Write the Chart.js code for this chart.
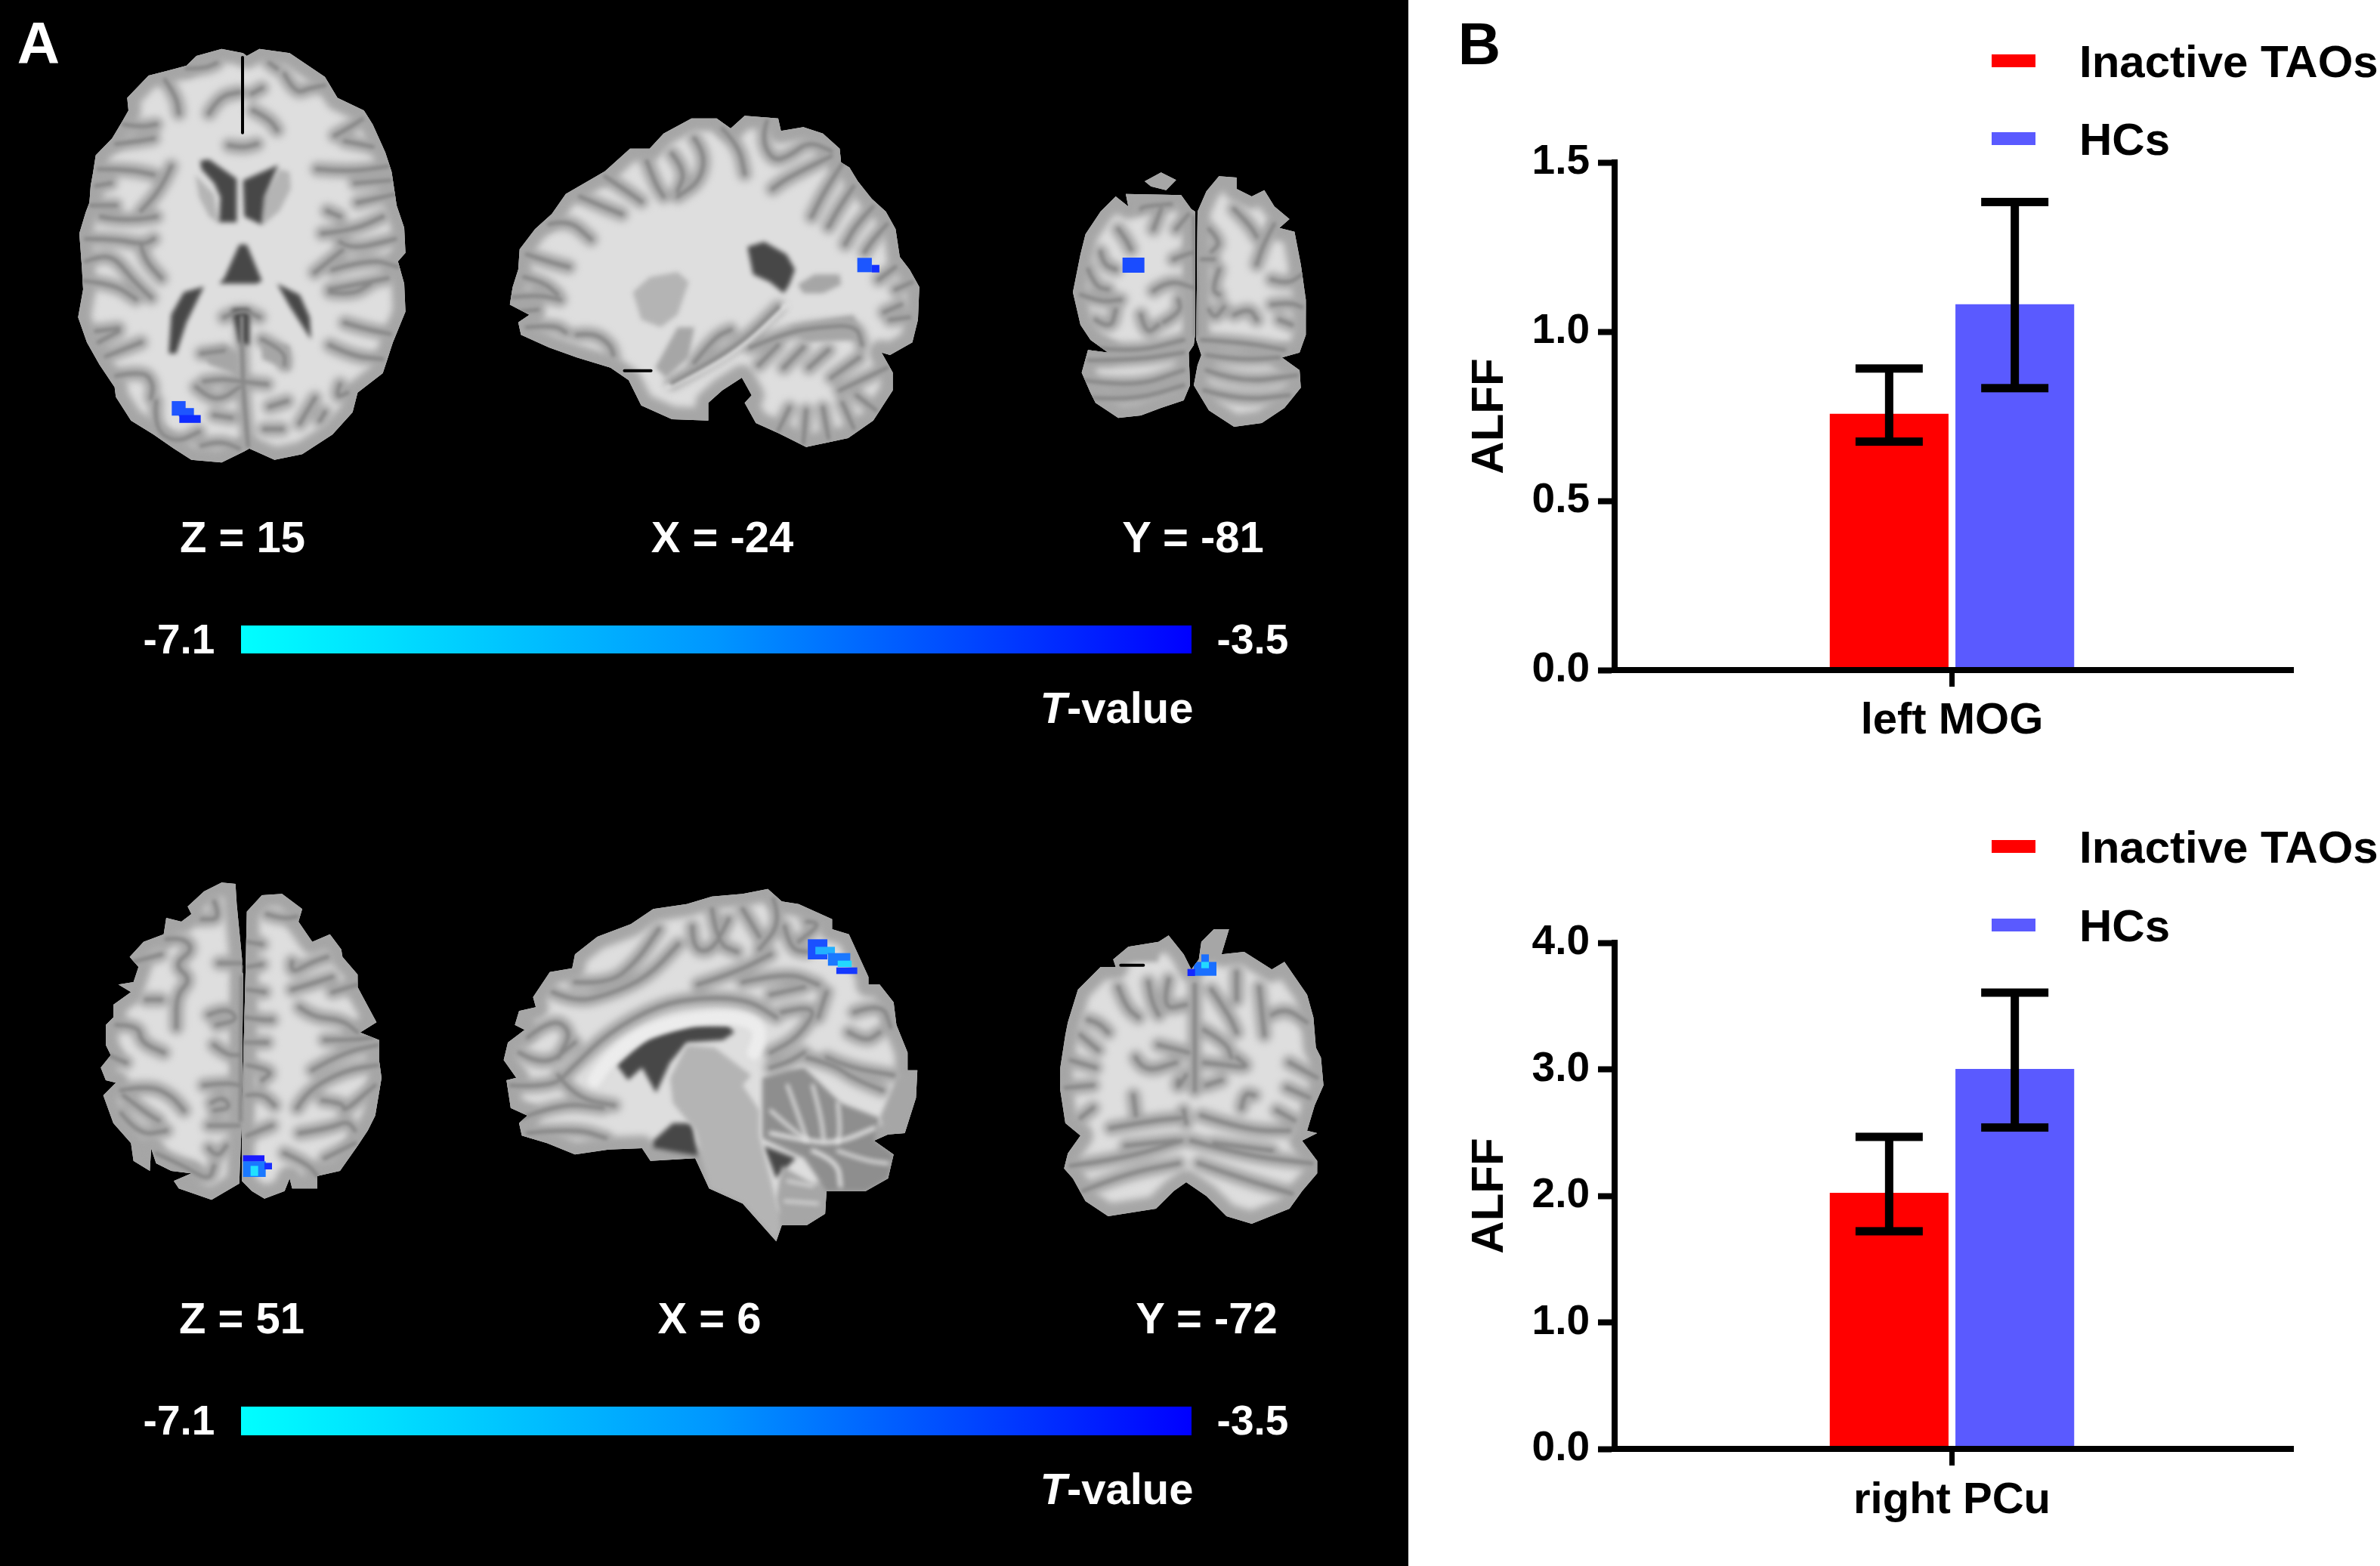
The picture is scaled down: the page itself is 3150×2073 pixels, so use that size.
<!DOCTYPE html>
<html>
<head>
<meta charset="utf-8">
<title>ALFF</title>
<script src="https://cdn.jsdelivr.net/npm/chart.js@4/dist/chart.umd.js"></script>
<style>
html, body { margin: 0; padding: 0; background: #fff; }
body { position: relative; width: 3150px; height: 2073px; overflow: hidden; font-family: "Liberation Sans", Arial, sans-serif; font-weight: bold; }
#panelA { position: absolute; left: 0; top: 0; width: 1864px; height: 2073px; background: #000; }
canvas { position: absolute; }
.txt { position: absolute; color: #fff; font-size: 58px; line-height: 1; white-space: nowrap; transform: translate(-50%, -50%); }
.bar { position: absolute; left: 319px; width: 1258px; background: linear-gradient(to right, #00ffff, #0096ff 50%, #0000ff); }
.end { font-size: 55px; }
</style>
</head>
<body>
<div id="panelA"></div>
<canvas id="brains" width="1864" height="2073" style="left:0;top:0"></canvas>

<div class="txt" style="left:51px;top:57px;font-size:78px">A</div>
<div class="txt" style="left:321px;top:711px">Z = 15</div>
<div class="txt" style="left:956px;top:711px">X = -24</div>
<div class="txt" style="left:1579px;top:711px">Y = -81</div>
<div class="bar" style="top:828px;height:37px"></div>
<div class="txt end" style="left:237px;top:846px">-7.1</div>
<div class="txt end" style="left:1658px;top:846px">-3.5</div>
<div class="txt" style="left:1478px;top:937px"><i>T</i>-value</div>

<div class="txt" style="left:320px;top:1745px">Z = 51</div>
<div class="txt" style="left:939px;top:1745px">X = 6</div>
<div class="txt" style="left:1597px;top:1745px">Y = -72</div>
<div class="bar" style="top:1862px;height:38px"></div>
<div class="txt end" style="left:237px;top:1880px">-7.1</div>
<div class="txt end" style="left:1658px;top:1880px">-3.5</div>
<div class="txt" style="left:1478px;top:1971px"><i>T</i>-value</div>

<div class="txt" style="left:1958px;top:58px;font-size:78px;color:#000">B</div>

<canvas id="chartMog" style="left:1880px;top:0"></canvas>
<canvas id="chartPcu" style="left:1880px;top:1040px"></canvas>

<script>
// bar chart values
const groups = ['Inactive TAOs', 'HCs'];
const groupColors = ['#ff0000', '#5a5aff'];

const mogLabels = ['left MOG'];
const mogMeans = [0.757, 1.081];
const mogErrLow = [0.675, 0.833];
const mogErrHigh = [0.891, 1.383];
const mogTicks = [0, 0.5, 1, 1.5];

const pcuLabels = ['right PCu'];
const pcuMeans = [2.024, 3.003];
const pcuErrLow = [1.72, 2.54];
const pcuErrHigh = [2.466, 3.606];
const pcuTicks = [0, 1, 2, 3, 4];

// error bars + legend, Chart.js has neither in this form
const extras = {
    id: 'extras',
    afterDatasetsDraw(chart, args, opts) {
        const ctx = chart.ctx;
        const y = chart.scales.y;
        ctx.save();
        ctx.fillStyle = '#000';
        chart.data.datasets.forEach((ds, i) => {
            const bar = chart.getDatasetMeta(i).data[0];
            const hi = y.getPixelForValue(opts.high[i]);
            const lo = y.getPixelForValue(opts.low[i]);
            ctx.fillRect(bar.x - 5.5, hi, 11, lo - hi);
            ctx.fillRect(bar.x - 44.5, hi - 5.5, 89, 11);
            ctx.fillRect(bar.x - 44.5, lo - 5.5, 89, 11);
        });
        // axis line runs a bit past the last category slot
        ctx.fillRect(chart.chartArea.right, chart.chartArea.bottom - 4, 6, 8);

        ctx.font = 'bold 60px "Liberation Sans"';
        ctx.textBaseline = 'middle';
        chart.data.datasets.forEach((ds, i) => {
            const ly = opts.legendY[i];
            ctx.fillStyle = ds.backgroundColor;
            ctx.fillRect(756, ly - 9, 58, 17);
            ctx.fillStyle = '#000';
            ctx.fillText(ds.label, 872, ly + 4);
        });
        ctx.restore();
    }
};

function barChart(id, size, area, labels, means, low, high, ticks, legendY, labelPad) {
    const font = s => ({ family: '"Liberation Sans"', weight: 'bold', size: s });
    const canvas = document.getElementById(id);
    canvas.width = size[0];
    canvas.height = size[1];
    return new Chart(canvas, {
        type: 'bar',
        data: {
            labels: labels,
            datasets: groups.map((g, i) => ({
                label: g,
                data: [means[i]],
                backgroundColor: groupColors[i],
                categoryPercentage: 0.3725,
                barPercentage: 0.945
            }))
        },
        plugins: [extras],
        options: {
            responsive: false,
            animation: false,
            devicePixelRatio: 1,
            layout: { padding: { left: 0, top: area.top, right: size[0] - area.right, bottom: 0 } },
            plugins: {
                legend: { display: false },
                tooltip: { enabled: false },
                extras: { low: low, high: high, legendY: legendY }
            },
            scales: {
                x: {
                    afterFit: s => { s.height = size[1] - area.bottom; },
                    grid: { offset: false, drawOnChartArea: false, tickLength: 22, tickWidth: 7, tickColor: '#000', z: 1 },
                    border: { color: '#000', width: 8, z: 1 },
                    ticks: { color: '#000', font: font(58), padding: labelPad, maxRotation: 0 }
                },
                y: {
                    min: ticks[0],
                    max: ticks[ticks.length - 1],
                    afterFit: s => { s.width = area.left; },
                    grid: { drawOnChartArea: false, tickLength: 22, tickWidth: 8, tickColor: '#000', z: 1 },
                    border: { color: '#000', width: 8, z: 1 },
                    ticks: {
                        color: '#000',
                        font: font(55),
                        padding: 11,
                        stepSize: ticks[1] - ticks[0],
                        callback: v => v.toFixed(1)
                    },
                    title: {
                        display: true,
                        text: 'ALFF',
                        color: '#000',
                        font: font(60),
                        padding: { top: 56, bottom: 0 }
                    }
                }
            }
        }
    });
}

barChart('chartMog', [1270, 1030], { left: 257, right: 1150, top: 215, bottom: 887 },
    mogLabels, mogMeans, mogErrLow, mogErrHigh, mogTicks, [81, 184], 11);
barChart('chartPcu', [1270, 1033], { left: 257, right: 1150, top: 208, bottom: 878 },
    pcuLabels, pcuMeans, pcuErrLow, pcuErrHigh, pcuTicks, [81, 185], 12);

// ---- MRI slices of panel A: rough hand traced illustration, not data ----
const WM = '#dedede', GM = '#a6a6a6', SUL = '#888888', CSF = '#474747', DEEP = '#b4b4b4';

const slices = [
    { // axial Z = 15
        ox: 90, oy: 50, sx: 3, sy: 2.703,
        outlines: [[[695,55],[610,40],[510,65],[470,100],[385,120],[320,135],[235,215],[240,260],[215,300],[175,360],[110,420],[100,480],[90,530],[85,590],[70,625],[45,700],[55,820],[60,900],[40,1000],[75,1090],[125,1170],[185,1250],[190,1285],[250,1370],[340,1420],[420,1470],[490,1510],[610,1520],[700,1480],[720,1470],[820,1510],[930,1490],[1050,1420],[1130,1340],[1150,1270],[1250,1200],[1290,1090],[1340,980],[1335,880],[1310,800],[1340,770],[1335,680],[1305,600],[1285,480],[1260,410],[1210,310],[1175,260],[1070,215],[1020,140],[880,55],[760,40],[710,65]]],
        folds: [[[470,110],[540,110],[590,90]],[[385,150],[430,210],[440,270]],[[560,270],[600,210],[680,195]],[[640,385],[690,395],[750,380]],[[735,260],[800,290],[830,330]],[[730,200],[770,180]],[[860,130],[900,200],[960,180],[1020,170]],[[800,90],[830,110]],[[220,310],[290,320],[350,310]],[[190,380],[280,370],[340,360]],[[120,470],[240,470],[340,490]],[[410,460],[370,540],[290,620]],[[110,530],[170,520]],[[90,600],[190,600]],[[130,640],[180,650],[280,650],[350,640]],[[70,720],[180,720],[300,740],[340,720]],[[290,740],[300,790],[370,860]],[[70,800],[130,780],[190,790],[250,860],[330,930]],[[60,870],[180,880],[270,935]],[[110,1050],[200,1040]],[[120,1090],[200,1050]],[[150,1140],[290,1090]],[[190,1210],[300,1190],[340,1240],[330,1290]],[[350,1300],[340,1400],[430,1450],[520,1410]],[[580,1350],[650,1360]],[[530,1460],[600,1440],[680,1470]],[[530,1130],[620,1120]],[[540,1230],[600,1220],[690,1230],[790,1240]],[[770,1080],[860,1120],[860,1170]],[[510,1250],[560,1290],[620,1290],[680,1250]],[[620,1000],[690,970],[760,1000]],[[1060,350],[1120,320],[1170,290]],[[1100,370],[1210,390]],[[990,470],[1120,480],[1270,460]],[[1140,520],[1280,510]],[[1150,590],[1300,560]],[[1030,620],[1080,640]],[[1010,700],[1130,690],[1250,640]],[[1080,730],[1120,760],[1300,720]],[[980,840],[1090,760]],[[1050,830],[1200,790],[1310,820]],[[1040,900],[1110,890],[1270,860]],[[1040,910],[1130,920],[1200,880]],[[1100,1020],[1170,1040],[1280,1060]],[[1040,1100],[1130,1140],[1250,1150]],[[1080,1240],[1060,1290],[1110,1270]],[[920,1380],[980,1290]],[[1000,1370],[1020,1340]],[[800,1320],[870,1300]],[[780,1400],[850,1400]],[[690,1000],[690,1200],[715,1460]]],
        areas: [[DEEP,[[505,490],[580,560],[600,665],[560,640],[520,570]]],[DEEP,[[840,470],[880,480],[885,540],[840,620],[775,670],[775,580]]],[CSF,[[525,440],[560,435],[670,505],[670,660],[600,660],[605,570],[580,520],[530,470]]],[CSF,[[695,510],[835,455],[780,570],[770,670],[700,640]]],[CSF,[[680,740],[620,860],[600,880],[750,880],[770,870],[710,740]]],[CSF,[[540,890],[460,910],[410,990],[400,1130],[430,1130],[470,1020]]],[CSF,[[830,880],[920,920],[960,1000],[965,1080],[880,960]]],[CSF,[[650,970],[720,970],[720,1100],[680,1090]]],[GM,[[530,1120],[620,1100],[680,1130],[680,1210],[560,1170]]],[GM,[[770,1090],[880,1100],[880,1190],[770,1150]]]],
        bright: [],
        lines: [[[693,70],[693,340]]],
        cells: [[412,1300,55,52,'#1e55ff'],[440,1325,60,30,'#1e55ff'],[442,1350,85,28,'#0f2bff']]
    },
    { // sagittal X = -24
        ox: 660, oy: 140, sx: 2.703, sy: 3,
        outlines: [[[880,40],[1000,50],[1010,100],[1090,85],[1160,110],[1220,170],[1225,225],[1255,245],[1285,300],[1335,370],[1385,420],[1420,490],[1435,600],[1470,650],[1505,720],[1500,850],[1480,940],[1400,990],[1370,980],[1410,1060],[1410,1130],[1340,1250],[1250,1320],[1100,1355],[1000,1300],[920,1260],[880,1180],[905,1150],[870,1080],[800,1130],[750,1180],[750,1250],[620,1245],[510,1190],[465,1090],[400,1040],[280,1000],[180,960],[80,910],[70,860],[110,830],[40,790],[50,720],[70,650],[75,570],[130,490],[190,430],[240,350],[380,260],[440,200],[470,170],[540,170],[590,110],[690,50],[780,50],[830,90]]],
        folds: [[[180,470],[250,450],[330,530]],[[100,590],[180,620],[250,640]],[[90,680],[160,700],[210,750]],[[50,760],[140,750],[220,770]],[[60,820],[140,810]],[[100,880],[200,870],[240,900]],[[280,910],[340,900],[400,950],[410,990]],[[290,360],[350,390],[440,430]],[[380,280],[460,340],[510,380]],[[530,220],[560,310],[590,360]],[[620,190],[670,260],[640,340]],[[700,130],[740,190],[720,300],[640,360]],[[800,90],[860,160],[880,270]],[[960,60],[940,130],[980,220],[1040,200],[1110,140],[1190,180]],[[1190,200],[1040,280],[980,330]],[[1230,230],[1170,330],[1120,440]],[[1270,320],[1220,400],[1180,480]],[[1340,400],[1280,470],[1240,550]],[[1390,470],[1340,530],[1310,580]],[[1420,640],[1360,690]],[[1480,700],[1420,730]],[[1380,820],[1440,790]],[[1470,840],[1400,850]],[[620,1100],[740,1030],[880,930],[1000,800]],[[700,1020],[770,920],[830,890]],[[900,960],[1030,900],[1140,880],[1280,870],[1300,950]],[[930,1030],[1000,950]],[[1020,1040],[1090,960]],[[1110,1040],[1180,970]],[[1190,1080],[1290,1000]],[[1220,1130],[1390,1040]],[[1000,1290],[1040,1200]],[[1090,1340],[1100,1210]],[[1180,1320],[1160,1200]],[[1270,1280],[1230,1180]],[[1350,1210],[1280,1150]]],
        areas: [[DEEP,[[480,740],[540,680],[640,660],[680,700],[640,830],[580,880],[510,850]]],[GM,[[560,1040],[640,880],[700,880],[680,1000],[600,1080]]],[CSF,[[890,560],[950,540],[1030,590],[1060,650],[1040,710],[1020,745],[970,700],[910,670]]],[GM,[[1070,710],[1130,670],[1220,670],[1225,710],[1160,745],[1090,745]]],[GM,[[1040,880],[1270,830],[1300,930],[1100,940]]]],
        bright: [[[[600,1120],[760,1040],[900,930],[1030,790]],5]],
        lines: [[[450,1052],[545,1052]]],
        cells: [[1283,604,52,57,'#1c56ff'],[1335,632,27,30,'#1530ff']]
    },
    { // coronal Y = -81
        ox: 1400, oy: 210, sx: 3, sy: 3,
        outlines: [[[270,140],[490,145],[530,200],[545,210],[545,700],[540,740],[520,770],[525,900],[500,960],[410,990],[330,1020],[240,1030],[150,970],[130,930],[95,850],[120,760],[200,770],[130,720],[90,660],[60,530],[90,380],[110,300],[170,210],[230,150],[280,190]],
            [[555,210],[590,130],[640,70],[710,75],[710,120],[770,150],[820,125],[860,190],[920,240],[880,275],[940,290],[965,420],[985,560],[985,700],[960,770],[890,790],[960,840],[965,910],[900,990],[810,1050],[700,1065],[600,1000],[540,900],[555,820],[570,780],[550,720]],
            [[345,90],[410,55],[470,85],[430,125],[370,110]]],
        folds: [[[240,280],[270,320],[290,360]],[[170,370],[180,420],[230,440]],[[120,440],[150,510],[200,520]],[[90,540],[170,570],[250,560]],[[330,200],[330,190],[450,180]],[[410,200],[380,280]],[[520,220],[470,280]],[[460,400],[510,380],[545,370]],[[380,525],[440,480],[545,515]],[[330,620],[350,700],[400,660]],[[420,650],[490,610],[480,560]],[[150,640],[210,680],[230,600]],[[600,280],[650,330],[610,370]],[[700,200],[760,260],[790,310]],[[860,260],[820,330],[790,420]],[[640,440],[610,520],[640,540]],[[570,400],[620,400]],[[850,480],[910,500],[970,460]],[[850,580],[920,570],[970,590]],[[600,600],[620,640],[660,590]],[[700,620],[760,590],[790,640]],[[880,640],[930,660]],[[540,230],[548,500],[548,700]],[[130,750],[300,770],[500,720]],[[570,720],[740,730],[900,760]],[[120,800],[300,800],[500,770]],[[590,780],[720,800],[880,790]],[[100,880],[300,910],[500,840]],[[590,840],[720,890],[950,860]],[[140,950],[300,960],[500,900]],[[580,920],[720,960],[920,940]]],
        areas: [[GM,[[280,145],[490,145],[380,200],[310,220]]]],
        bright: [],
        lines: [],
        cells: [[257,393,87,60,'#1a4cff']]
    },
    { // axial Z = 51
        ox: 120, oy: 1150, sx: 3, sy: 3,
        outlines: [[[575,60],[520,55],[450,90],[385,150],[400,180],[360,210],[300,195],[290,260],[210,290],[155,350],[190,390],[170,450],[110,460],[160,490],[90,540],[90,590],[60,620],[60,700],[80,740],[40,790],[60,840],[100,850],[50,900],[90,1010],[160,1090],[170,1160],[235,1200],[240,1110],[260,1170],[320,1200],[400,1210],[330,1240],[350,1270],[480,1315],[590,1250],[600,1000],[605,400],[580,140]],
            [[615,410],[620,170],[680,105],[760,100],[840,160],[825,210],[880,290],[950,260],[995,320],[1000,350],[1060,420],[1060,470],[1135,610],[1070,650],[1145,680],[1145,760],[1155,830],[1130,980],[1100,1040],[1060,1100],[990,1200],[900,1220],[900,1270],[800,1270],[790,1230],[770,1280],[690,1310],[640,1280],[600,1240],[600,1000]]],
        folds: [[[490,130],[520,200],[440,200]],[[300,280],[360,270],[410,320],[330,380],[400,440],[340,500],[340,630]],[[170,370],[280,340]],[[510,375],[600,375]],[[470,580],[540,550],[590,600],[500,620]],[[490,700],[540,740],[590,740]],[[450,860],[540,850],[590,860]],[[480,930],[520,900],[560,950],[490,960]],[[470,1020],[590,1020]],[[220,520],[280,520]],[[100,620],[190,620],[200,690],[290,730]],[[70,740],[140,770]],[[120,880],[230,860],[320,900],[370,960]],[[130,900],[220,970],[270,1000]],[[120,970],[190,1060],[300,1040]],[[470,1110],[500,1150],[540,1100]],[[260,1130],[370,1180],[470,1240],[490,1180]],[[620,290],[680,300]],[[620,390],[680,380]],[[620,480],[690,490]],[[610,590],[680,600],[720,600]],[[610,690],[700,690]],[[620,780],[730,800],[680,840]],[[620,900],[680,890],[730,940]],[[620,1060],[720,1020]],[[700,180],[760,200],[820,190]],[[800,370],[790,420],[880,370],[940,350]],[[800,480],[960,430]],[[830,550],[880,590],[1000,600],[1060,650]],[[960,490],[1060,460]],[[930,680],[1040,680],[1120,670]],[[880,800],[1000,730],[1140,700]],[[820,950],[860,880],[1010,800],[1140,780]],[[920,920],[1010,930],[1000,970],[1130,860]],[[830,1050],[950,1030],[1020,1000],[1050,1040]],[[770,1130],[860,1170],[900,1220]],[[930,1150],[1050,1090]],[[600,430],[595,1000]]],
        areas: [],
        bright: [],
        lines: [[[608,140],[608,410]]],
        cells: [[605,1138,85,25,'#1a1aff'],[605,1162,90,62,'#1a78ff'],[635,1180,30,40,'#22e0ff'],[690,1168,30,26,'#1a30ff']]
    },
    { // sagittal X = 6
        ox: 650, oy: 1160, sx: 2.703, sy: 3,
        outlines: [[[990,50],[1040,100],[1100,110],[1220,170],[1220,210],[1280,230],[1350,400],[1350,430],[1390,430],[1440,500],[1450,590],[1490,700],[1490,770],[1525,770],[1520,880],[1480,1020],[1420,1025],[1370,1050],[1440,1105],[1420,1200],[1340,1250],[1200,1250],[1195,1340],[1130,1385],[1040,1385],[1020,1450],[900,1300],[780,1240],[730,1120],[570,1130],[540,1080],[420,1085],[300,1105],[200,1060],[110,1030],[100,980],[130,950],[70,920],[55,810],[90,800],[45,730],[60,660],[120,610],[85,590],[100,535],[160,520],[150,480],[210,380],[290,365],[300,310],[380,240],[500,190],[580,130],[700,110],[790,80],[900,70]]],
        folds: [[[300,420],[420,430],[520,340],[600,210]],[[220,460],[300,500],[420,470],[560,400],[670,270]],[[130,640],[220,560],[290,620],[240,720]],[[100,700],[190,760],[300,660]],[[70,830],[220,840],[290,760],[420,620],[600,510],[760,480],[920,490],[1020,560]],[[110,960],[250,900],[400,920]],[[130,1020],[300,1000],[410,1040]],[[240,790],[300,880],[440,910]],[[720,200],[720,290],[790,300],[850,170]],[[790,130],[810,270],[880,300]],[[900,130],[960,240]],[[1010,90],[1040,180],[960,290]],[[1050,200],[1070,290],[1130,300]],[[1130,180],[1190,180],[1100,260]],[[740,430],[880,380],[1000,310]],[[900,420],[1060,380],[1170,430]],[[1000,470],[1120,440]],[[1040,540],[1180,500],[1100,640],[1000,700]],[[1200,460],[1170,560]],[[1300,540],[1400,500],[1430,600]],[[1280,620],[1340,660],[1390,620]],[[1130,720],[1230,750],[1290,800],[1400,850]],[[1200,720],[1280,760],[1440,790]],[[1000,760],[1060,740],[1120,700]]],
        areas: [[ '#8e8e8e',[[970,800],[1060,770],[1120,760],[1250,900],[1390,960],[1370,1050],[1440,1105],[1420,1200],[1340,1250],[1200,1250],[1120,1120],[970,1040]]],[CSF,[[450,750],[560,640],[720,590],[850,595],[870,620],[830,650],[700,660],[640,740],[590,860],[540,760],[490,810]]],[CSF,[[580,1050],[650,980],[720,980],[740,1110],[580,1080]]],[CSF,[[975,1070],[1090,1120],[1020,1200]]],[DEEP,[[640,800],[700,670],[800,680],[930,790],[900,830],[960,930],[960,1030],[1000,1200],[1040,1380],[1020,1450],[900,1300],[780,1240],[730,1010],[650,900]]],[GM,[[1450,800],[1525,770],[1520,880],[1480,1020],[1420,1025],[1390,960]]],[GM,[[1040,1150],[1195,1250],[1195,1340],[1130,1385],[1040,1385],[1020,1280]]]],
        bright: [[[[370,810],[420,720],[560,610],[740,560],[900,560],[970,610],[940,700]],18],[[[1000,1020],[1120,1050],[1240,1060],[1370,1000]],5],[[[1060,830],[1100,950],[1130,1050]],4],[[[1150,830],[1180,950],[1190,1050]],4],[[[1240,900],[1250,1000],[1240,1060]],4],[[[1000,930],[1060,990],[1120,1040]],4],[[[1150,1090],[1240,1130],[1250,1230]],5],[[[1240,1090],[1340,1130],[1420,1140]],4],[[[1060,1210],[1150,1230]],3],[[[1050,1290],[1170,1300]],3]],
        lines: [],
        cells: [[1133,250,70,80,'#1a50ff'],[1160,280,70,30,'#22b0ff'],[1205,305,80,50,'#1a78ff'],[1240,335,50,25,'#22d8ff'],[1235,362,75,26,'#1438ff']]
    },
    { // coronal Y = -72
        ox: 1390, oy: 1210, sx: 3, sy: 3,
        outlines: [[[250,180],[310,130],[430,110],[470,85],[530,160],[560,220],[590,180],[600,110],[650,60],[710,60],[680,160],[770,150],[880,220],[930,190],[1020,320],[1045,410],[1055,530],[1075,570],[1085,680],[1050,760],[1020,860],[1060,870],[1000,900],[1060,980],[1060,1030],[1000,1100],[950,1170],[800,1230],[700,1200],[620,1120],[540,1065],[490,1100],[420,1170],[230,1200],[140,1140],[90,1050],[55,1010],[70,950],[120,880],[60,830],[40,700],[40,610],[60,480],[70,430],[110,300],[200,210],[260,210]]],
        folds: [[[270,290],[300,370],[350,410]],[[390,270],[400,340],[430,400]],[[470,260],[440,380],[540,360]],[[150,420],[190,430],[230,470]],[[120,480],[190,540]],[[80,580],[180,610]],[[60,690],[170,680]],[[340,570],[370,630],[500,590]],[[430,520],[550,550]],[[510,660],[500,700],[540,640]],[[330,720],[340,800]],[[170,770],[120,810]],[[574,280],[574,700]],[[640,300],[710,400],[740,470]],[[740,230],[740,340]],[[830,290],[850,480]],[[880,400],[930,370],[1020,430]],[[610,460],[700,510],[720,570]],[[610,590],[700,600],[790,610],[740,570]],[[620,680],[680,660]],[[760,770],[770,710],[810,720]],[[900,780],[970,820]],[[950,590],[1060,650]],[[940,690],[1030,730]],[[240,850],[400,820],[520,810]],[[600,800],[780,860],[950,860]],[[80,1000],[300,970],[520,900]],[[560,900],[780,960],[1040,990]],[[130,1100],[300,1030],[510,990]],[[590,990],[760,1050],[960,1110]],[[300,920],[500,900]],[[650,910],[880,940]],[[530,780],[540,830]]],
        areas: [[GM,[[250,180],[310,130],[430,120],[430,190],[280,190]]]],
        bright: [],
        lines: [[[280,203],[370,203]]],
        cells: [[600,160,30,30,'#1a6fff'],[570,190,90,55,'#1a6fff'],[600,190,30,25,'#22d8ff'],[545,218,30,28,'#1428ff']]
    }
];

function curve(ctx, pts, map) {
    const p = pts.map(map);
    ctx.moveTo(p[0][0], p[0][1]);
    for (let i = 1; i < p.length - 1; i++) {
        ctx.quadraticCurveTo(p[i][0], p[i][1], (p[i][0] + p[i + 1][0]) / 2, (p[i][1] + p[i + 1][1]) / 2);
    }
    ctx.lineTo(p[p.length - 1][0], p[p.length - 1][1]);
}

function drawSlice(ctx, s) {
    const map = q => [s.ox + q[0] / s.sx, s.oy + q[1] / s.sy];
    const shape = () => {
        ctx.beginPath();
        s.outlines.forEach(o => {
            o.map(map).forEach((q, i) => (i ? ctx.lineTo(q[0], q[1]) : ctx.moveTo(q[0], q[1])));
            ctx.closePath();
        });
    };
    ctx.save();
    shape();
    ctx.fillStyle = WM;
    ctx.fill();
    ctx.clip();

    ctx.lineCap = 'round';
    ctx.lineJoin = 'round';
    ctx.filter = 'blur(5px)';
    shape();
    ctx.strokeStyle = GM;
    ctx.lineWidth = 34;
    ctx.stroke();

    ctx.beginPath();
    s.folds.forEach(f => curve(ctx, f, map));
    ctx.strokeStyle = GM;
    ctx.lineWidth = 20;
    ctx.stroke();

    ctx.filter = 'blur(3px)';
    (s.areas || []).forEach(a => {
        ctx.beginPath();
        a[1].map(map).forEach((q, i) => (i ? ctx.lineTo(q[0], q[1]) : ctx.moveTo(q[0], q[1])));
        ctx.closePath();
        ctx.fillStyle = a[0];
        ctx.fill();
    });
    s.bright.forEach(b => {
        ctx.beginPath();
        curve(ctx, b[0], map);
        ctx.strokeStyle = '#ececec';
        ctx.lineWidth = b[1];
        ctx.stroke();
    });

    ctx.filter = 'blur(2px)';
    ctx.beginPath();
    s.folds.forEach(f => curve(ctx, f, map));
    ctx.strokeStyle = SUL;
    ctx.lineWidth = 5;
    ctx.stroke();

    ctx.filter = 'none';
    ctx.beginPath();
    s.lines.forEach(l => curve(ctx, l, map));
    ctx.strokeStyle = '#000';
    ctx.lineWidth = 4;
    ctx.stroke();

    s.cells.forEach(c => {
        ctx.fillStyle = c[4];
        ctx.fillRect(s.ox + c[0] / s.sx, s.oy + c[1] / s.sy, c[2] / s.sx, c[3] / s.sy);
    });
    ctx.restore();
}

const bctx = document.getElementById('brains').getContext('2d');
slices.forEach(s => drawSlice(bctx, s));
</script>
</body>
</html>
